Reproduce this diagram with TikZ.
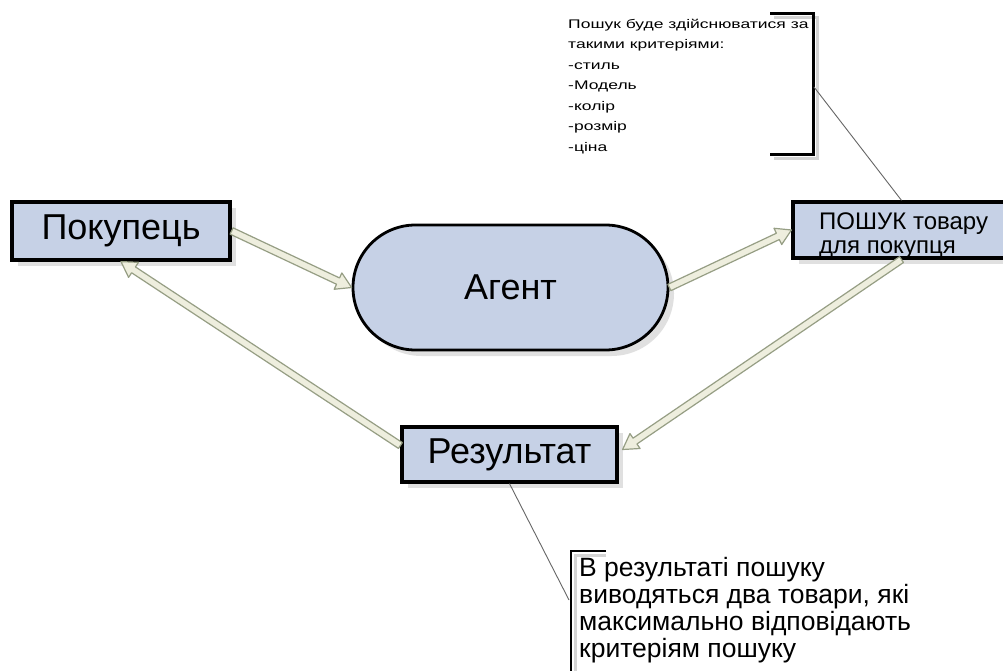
\documentclass[tikz,border=0pt]{standalone}
\usepackage{fontspec}
\setmainfont{Liberation Sans}
\newfontfamily\notefont[FakeStretch=1.4]{Liberation Sans}
\usetikzlibrary{calc,shapes.misc,shadows}

\definecolor{boxfill}{RGB}{198,209,230}
\definecolor{arrowfill}{RGB}{238,238,222}
\definecolor{arrowedge}{RGB}{150,158,132}
\definecolor{shadowc}{RGB}{212,212,212}

\tikzset{
  softshadow/.style={drop shadow={shadow xshift=6pt,shadow yshift=-6pt,fill=shadowc,opacity=0.7}},
  box/.style={rectangle, draw=black, line width=3.2pt, fill=boxfill, inner sep=0pt, softshadow},
  agentshape/.style={rounded rectangle, draw=black, line width=2.8pt, fill=boxfill, inner sep=0pt, softshadow},
  fatarrow/.style={draw=arrowedge, fill=arrowfill, line width=1.2pt, line join=round},
  bracket/.style={draw=black, line width=3pt},
  bracketshadow/.style={draw=shadowc, line width=3pt},
  callout/.style={draw=black!60, line width=0.9pt},
  plaintext/.style={inner sep=0pt, align=left},
}

% hollow block arrow from #1 to #2
\newcommand\fatarrow[2]{%
  \path (#1) coordinate (fa-tail) (#2) coordinate (fa-tip);
  \path ($(fa-tip)!15pt!(fa-tail)$) coordinate (fa-base);
  \filldraw[fatarrow] ($(fa-tail)!3.5pt!90:(fa-tip)$) -- ($(fa-base)!3.5pt!90:(fa-tip)$)
    -- ($(fa-base)!9pt!90:(fa-tip)$) -- (fa-tip) -- ($(fa-base)!9pt!-90:(fa-tip)$)
    -- ($(fa-base)!3.5pt!-90:(fa-tip)$) -- ($(fa-tail)!3.5pt!-90:(fa-tip)$) -- cycle;
}

\begin{document}
\begin{tikzpicture}[x=1pt,y=-1pt]
\useasboundingbox (0,0) rectangle (1003,671);
\fill[white] (0,0) rectangle (1003,671);

% main blocks
\node[box, minimum width=218pt, minimum height=58pt, font=\fontsize{36}{40}\selectfont] (pok) at (121,231) {Покупець};
\node[agentshape, minimum width=315pt, minimum height=125pt, font=\fontsize{36}{40}\selectfont] (agent) at (510.5,287.5) {\raisebox{-4pt}{Агент}};
\node[box, minimum width=217pt, minimum height=56pt] (search) at (901.5,230) {};
\node[plaintext, anchor=north west, font=\fontsize{24}{23.5}\selectfont] (searchtext) at (819,213) {ПОШУК товару\\для покупця};
\node[box, minimum width=215pt, minimum height=55pt, font=\fontsize{36}{40}\selectfont] (res) at (509.5,454.5) {Результат};

% note on the search criteria
\draw[bracketshadow] (774,18) -- (817,18) -- (817,159) -- (774,159);
\draw[bracket] (770,14) -- (813,14) -- (813,155) -- (770,155);
\node[plaintext, anchor=north west, font=\notefont\fontsize{12.5}{20.5}\selectfont] (crit) at (568,19)
  {Пошук буде здійснюватися за\\такими критеріями:\\-стиль\\-Модель\\-колір\\-розмір\\-ціна};
\coordinate (critpt) at (814,87);
\draw[callout] (critpt) -- (search.north);

% note on the result
\draw[bracketshadow] (606,555) -- (575,555) -- (575,680);
\draw[bracket, line width=2.2pt] (606,551) -- (571,551) -- (571,680);
\node[plaintext, anchor=north west, font=\fontsize{26.5}{27}\selectfont] (resnote) at (579,557)
  {В результаті пошуку\\виводяться два товари, які\\максимально відповідають\\критеріям пошуку};
\coordinate (respt) at (569,600);
\draw[callout] (res.south) -- (respt);

% flow arrows
\coordinate (a3end) at ($(res.east)+(4,-5)$);
\coordinate (a4start) at ($(res.west)+(0,-9)$);
\fatarrow{pok.east}{agent.west}
\fatarrow{agent.east}{search.west}
\fatarrow{search.south}{a3end}
\fatarrow{a4start}{pok.south}
\end{tikzpicture}
\end{document}
